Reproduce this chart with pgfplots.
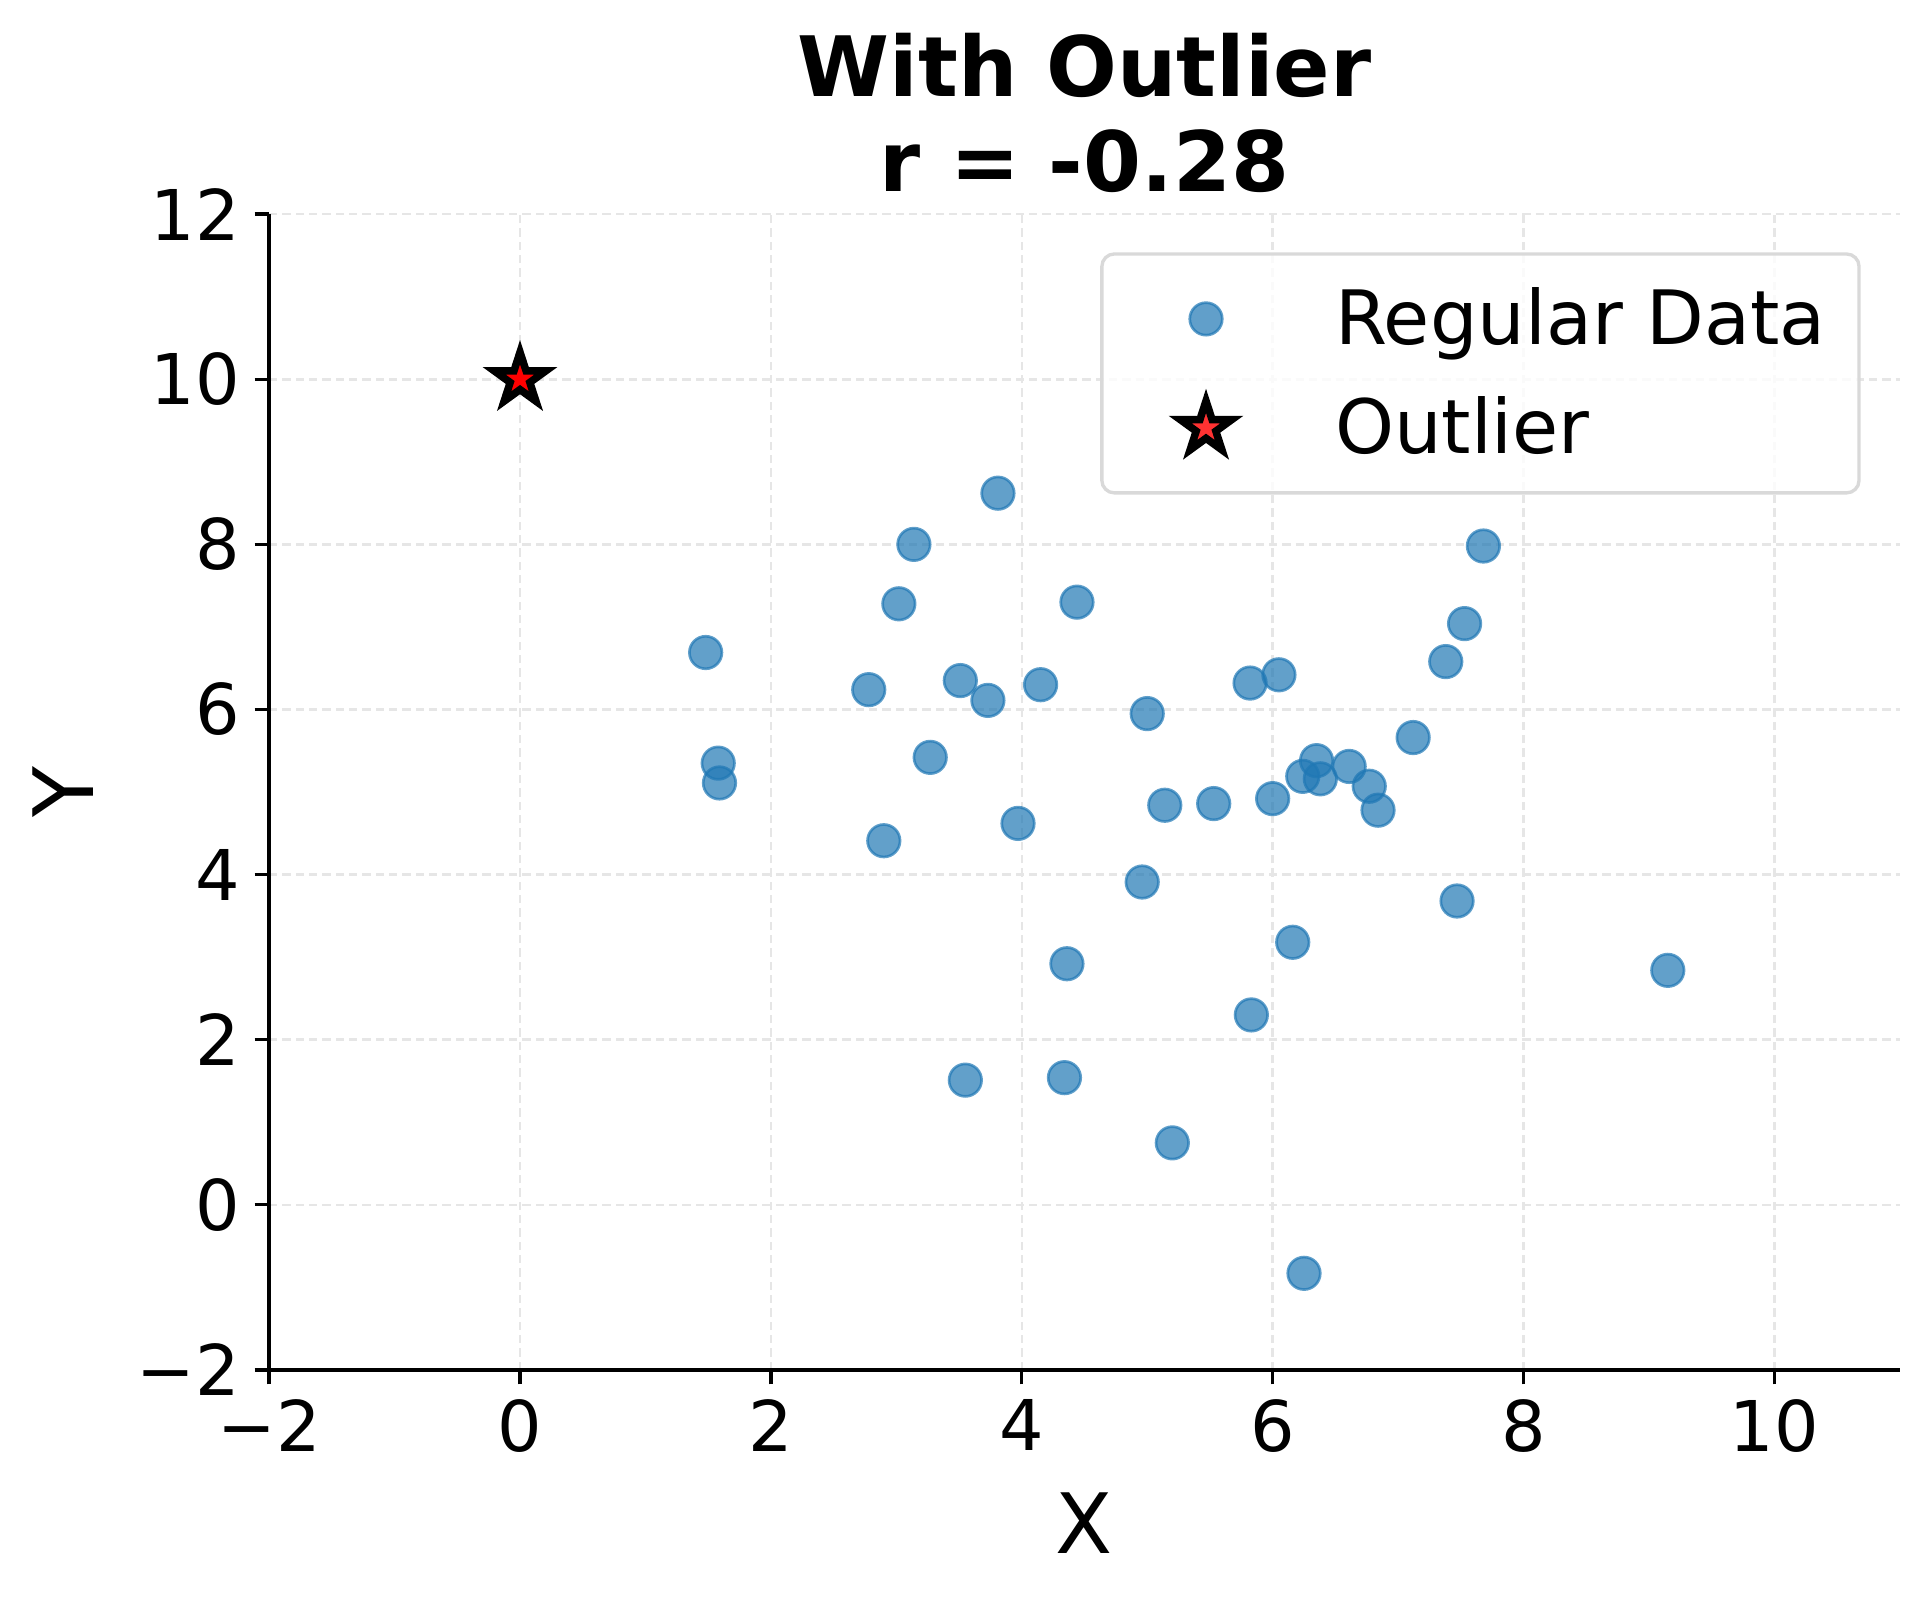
\documentclass[border=0pt]{standalone}
\usepackage{fontspec}
\setmainfont{DejaVu Sans}
\usepackage{pgfplots}
\pgfplotsset{compat=1.18}
\usepackage{pgfplotstable}

\definecolor{tabblue}{HTML}{1F77B4}
\definecolor{gridgray}{HTML}{E6E6E6}

% filled five-pointed star, like matplotlib's '*'
\pgfdeclareplotmark{fstar}{%
  \pgfpathmoveto{\pgfpointpolar{90}{\pgfplotmarksize}}%
  \pgfpathlineto{\pgfpointpolar{126}{0.382\pgfplotmarksize}}%
  \pgfpathlineto{\pgfpointpolar{162}{\pgfplotmarksize}}%
  \pgfpathlineto{\pgfpointpolar{198}{0.382\pgfplotmarksize}}%
  \pgfpathlineto{\pgfpointpolar{234}{\pgfplotmarksize}}%
  \pgfpathlineto{\pgfpointpolar{270}{0.382\pgfplotmarksize}}%
  \pgfpathlineto{\pgfpointpolar{306}{\pgfplotmarksize}}%
  \pgfpathlineto{\pgfpointpolar{342}{0.382\pgfplotmarksize}}%
  \pgfpathlineto{\pgfpointpolar{18}{\pgfplotmarksize}}%
  \pgfpathlineto{\pgfpointpolar{54}{0.382\pgfplotmarksize}}%
  \pgfpathclose
  \pgfusepathqfillstroke
}

\pgfplotstableread{
x y
1.48 6.69
1.58 5.35
1.59 5.11
2.78 6.24
2.90 4.41
3.02 7.28
3.14 8.00
3.27 5.42
3.51 6.35
3.55 1.51
3.73 6.11
3.81 8.62
3.97 4.62
4.15 6.30
4.36 2.92
4.34 1.54
4.44 7.30
4.96 3.91
5.00 5.95
5.14 4.84
5.20 0.75
5.53 4.86
5.82 6.32
5.83 2.30
6.00 4.92
6.05 6.42
6.16 3.18
6.24 5.19
6.25 -0.83
6.35 5.38
6.38 5.16
6.61 5.31
6.77 5.07
6.84 4.78
7.12 5.66
7.38 6.58
7.47 3.68
7.53 7.04
7.68 7.98
9.15 2.84
}\regular

\pgfplotstableread{
x y
0 10
}\outlier

\begin{document}
\begin{tikzpicture}
\begin{axis}[
    at={(0,0)}, anchor=south west,
    width=391.4pt, height=277.4pt, scale only axis,
    clip mode=individual,
    xmin=-2, xmax=11, ymin=-2, ymax=12,
    axis lines=left,
    axis line style={-, line width=0.8pt},
    xtick={-2,0,...,10}, ytick={-2,0,...,12},
    xticklabels={−2,0,2,4,6,8,10},
    yticklabels={−2,0,2,4,6,8,10,12},
    tick align=outside,
    major tick length=3.5pt,
    tick style={black, line width=0.8pt},
    ticklabel style={font=\fontsize{16.8}{20}\selectfont},
    grid=major,
    grid style={gridgray, line width=0.6pt, dash pattern=on 2pt off 1.2pt},
    xlabel={X}, ylabel={Y},
    every axis x label/.style={at={(axis description cs:0.5,-0.1328)}, anchor=center,
        font=\fontsize{20}{24}\selectfont},
    every axis y label/.style={at={(axis description cs:-0.1266,0.5)}, anchor=center, rotate=90,
        font=\fontsize{20}{24}\selectfont},
    legend style={at={(rel axis cs:0.976,0.967)}, anchor=north east,
        draw=black!15, line width=0.8pt, rounded corners=3pt,
        fill=white, fill opacity=0.8, text opacity=1,
        font=\fontsize{18}{21}\selectfont,
        inner xsep=6pt, inner ysep=6pt,
        row sep=7pt},
    legend cell align=left,
    legend image code/.code={%
        \path[draw=none] (0pt,0pt) -- (48pt,0pt);
        \path[#1, draw=none] plot[only marks] coordinates {(19pt,0pt)};},
    /tikz/every even column/.append style={column sep=8.5pt},
]
\addplot[only marks, mark=*, mark size=3.9pt,
    mark options={fill=tabblue, draw=tabblue, fill opacity=0.7, draw opacity=0.7, line width=0.65pt}]
    table[x=x, y=y] {\regular};
\addlegendentry{Regular Data}
\addplot[only marks, mark=fstar, mark size=6.5pt,
    mark options={fill=red, draw=black, line width=1.8pt, line join=miter}]
    table[x=x, y=y] {\outlier};
\addlegendentry{Outlier}

\node[anchor=base, yshift=28.2pt, font=\bfseries\fontsize{20}{24}\selectfont]
    at (rel axis cs:0.5,1) {With Outlier};
\node[anchor=base, yshift=5.4pt, font=\bfseries\fontsize{20}{24}\selectfont]
    at (rel axis cs:0.5,1) {r = -0.28};
\end{axis}
\pgfresetboundingbox
\path (-64.6pt,-54.5pt) rectangle (397.2pt,328.8pt);
\end{tikzpicture}
\end{document}
